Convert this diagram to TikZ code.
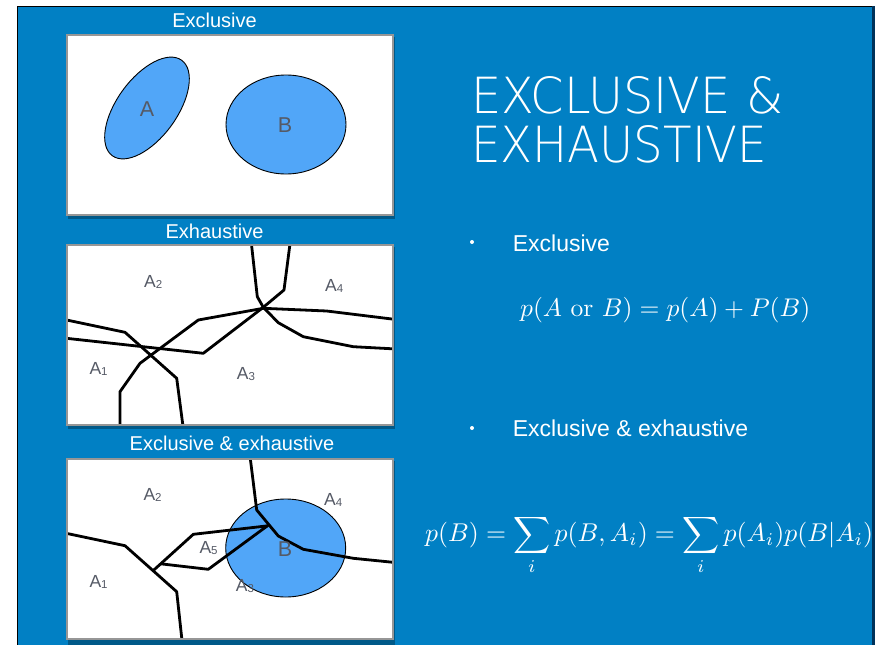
\documentclass[tikz,border=0pt]{standalone}
\usepackage{fontspec}
\usepackage{graphicx}
\newfontfamily\helv{Liberation Sans}
\newfontfamily\thinfont{DejaVuSans-ExtraLight.ttf}
\usetikzlibrary{shapes.geometric}
\definecolor{bgblue}{RGB}{1,128,196}
\definecolor{edgeblue}{RGB}{0,50,90}
\definecolor{eblue}{RGB}{81,166,248}
\definecolor{lblgray}{RGB}{85,90,102}
\definecolor{panelgray}{RGB}{150,150,150}
\newcommand{\mysub}[1]{\raisebox{-1pt}{\fontsize{11.5}{12}\selectfont #1}}
\begin{document}
\begin{tikzpicture}[x=1pt,y=-1pt,
  partline/.style={line width=2.8pt, black, line join=round},
  setshape/.style={ellipse, draw=black, line width=0.9pt, fill=eblue, inner sep=0},
  panelbox/.style={draw=panelgray, line width=2pt, fill=white},
  panelshadow/.style={fill=black, opacity=0.3},
  lbl/.style={anchor=base west, inner sep=0, text=lblgray, font=\helv\fontsize{17.5}{20}\selectfont},
  biglbl/.style={anchor=base, inner sep=0, text=lblgray, font=\helv\fontsize{21.5}{24}\selectfont},
  hdr/.style={anchor=base, inner sep=0, text=white, font=\helv\fontsize{20}{24}\selectfont},
  itemtext/.style={anchor=base west, inner sep=0, text=white, font=\helv\fontsize{23}{27}\selectfont},
  itemdot/.style={circle, fill=white, inner sep=0, minimum size=4pt},
  formula/.style={inner sep=0, text=white}
]
\useasboundingbox (0,0) rectangle (876,645);
% slide background
\fill[white] (0,0) rectangle (876,645);
\fill[bgblue] (17,6) rectangle (872,645);
\fill[edgeblue] (872,6) rectangle (874.5,645);
\draw[black, line width=0.8pt] (17,645) -- (17,6) -- (872,6);

% ---------- panel 1 ----------
\node[hdr] (h1) at (214.5,27.7) {Exclusive};
\fill[panelshadow] (68,37) rectangle (395,219);
\draw[panelbox] (67,35) rectangle (393,215);
\node[setshape, minimum width=118pt, minimum height=60pt, rotate=54] (ea) at (147,108) {};
\node[setshape, minimum width=120pt, minimum height=99pt] (eb) at (286,124.5) {};
\node[biglbl] (la) at (147,116) {A};
\node[biglbl] (lb) at (285,132.7) {B};

% ---------- panel 2 ----------
\node[hdr] (h2) at (214.5,238.3) {Exhaustive};
\fill[panelshadow] (68,247) rectangle (395,429);
\draw[panelbox] (67,245) rectangle (393,425);
\begin{scope}
\clip (67,245) rectangle (393,425);
\draw[partline] (60,318.6) -- (125,332.3) -- (176.7,378.3) -- (183.5,430);
\draw[partline] (60,337.6) -- (203.3,353.3) -- (263.3,307.3) -- (284,290) -- (290.5,240);
\draw[partline] (120,430) -- (120,391.7) -- (140,363.3) -- (198.3,320) -- (263.3,308.3) -- (326.7,311) -- (400,320);
\draw[partline] (251,240) -- (257.3,296.7) -- (263.3,307.3) -- (278.3,322.7) -- (303.3,336.7) -- (353.3,346.7) -- (400,349.2);
\end{scope}
\draw[draw=panelgray, line width=2pt] (67,245) rectangle (393,425);
\node[lbl] (b2a2) at (144,287.7) {A\mysub{2}};
\node[lbl] (b2a4) at (325,291) {A\mysub{4}};
\node[lbl] (b2a1) at (89.3,374.3) {A\mysub{1}};
\node[lbl] (b2a3) at (236.7,379) {A\mysub{3}};

% ---------- panel 3 ----------
\node[hdr] (h3) at (232,450) {Exclusive \& exhaustive};
\fill[panelshadow] (68,461) rectangle (395,645);
\draw[panelbox] (67,459) rectangle (393,639);
\node[setshape, minimum width=120pt, minimum height=98pt] (ec) at (285.7,548) {};
\begin{scope}
\clip (67,459) rectangle (393,639);
\draw[partline] (60,532) -- (125,545.7) -- (176.7,591.7) -- (182.5,645);
\draw[partline] (153.3,570.5) -- (193.3,534.3) -- (268,525.8);
\draw[partline] (160.7,563.8) -- (208.3,569.3) -- (268.5,525);
\draw[partline] (249.5,452) -- (256.7,510) -- (278.3,536) -- (303.3,549.3) -- (353.3,558.3) -- (400,563);
\end{scope}
\draw[draw=panelgray, line width=2pt] (67,459) rectangle (393,639);
\node[lbl] (c3a2) at (143.3,500.7) {A\mysub{2}};
\node[lbl] (c3a4) at (324,505.7) {A\mysub{4}};
\node[lbl] (c3a1) at (89.3,587.3) {A\mysub{1}};
\node[lbl] (c3a5) at (199.3,553.3) {A\mysub{5}};
\node[lbl] (c3a3) at (235.7,591.7) {A\mysub{3}};
\node[biglbl] (c3b) at (285,556.7) {B};

% ---------- right side ----------
\node[anchor=base west, inner sep=0, text=white] (t1) at (471,113) {\resizebox{312pt}{37pt}{\thinfont EXCLUSIVE \&}};
\node[anchor=base west, inner sep=0, text=white] (t2) at (471,162) {\resizebox{296pt}{37pt}{\thinfont EXHAUSTIVE}};

\node[itemdot] (d1) at (472,242) {};
\node[itemtext] (i1) at (512.7,251) {Exclusive};
\node[formula, anchor=west] (f1) at (520,310) {\resizebox{290pt}{!}{$p(A \mbox{ or } B) = p(A) + P(B)$}};

\node[itemdot] (d2) at (472,428) {};
\node[itemtext] (i2) at (512.7,436.7) {Exclusive \& exhaustive};
\node[formula, anchor=base west] (f2) at (425,541.7) {\resizebox{448pt}{!}{$\displaystyle p(B) = \sum_i p(B,A_i) = \sum_i p(A_i)p(B|A_i)$}};
\end{tikzpicture}
\end{document}
